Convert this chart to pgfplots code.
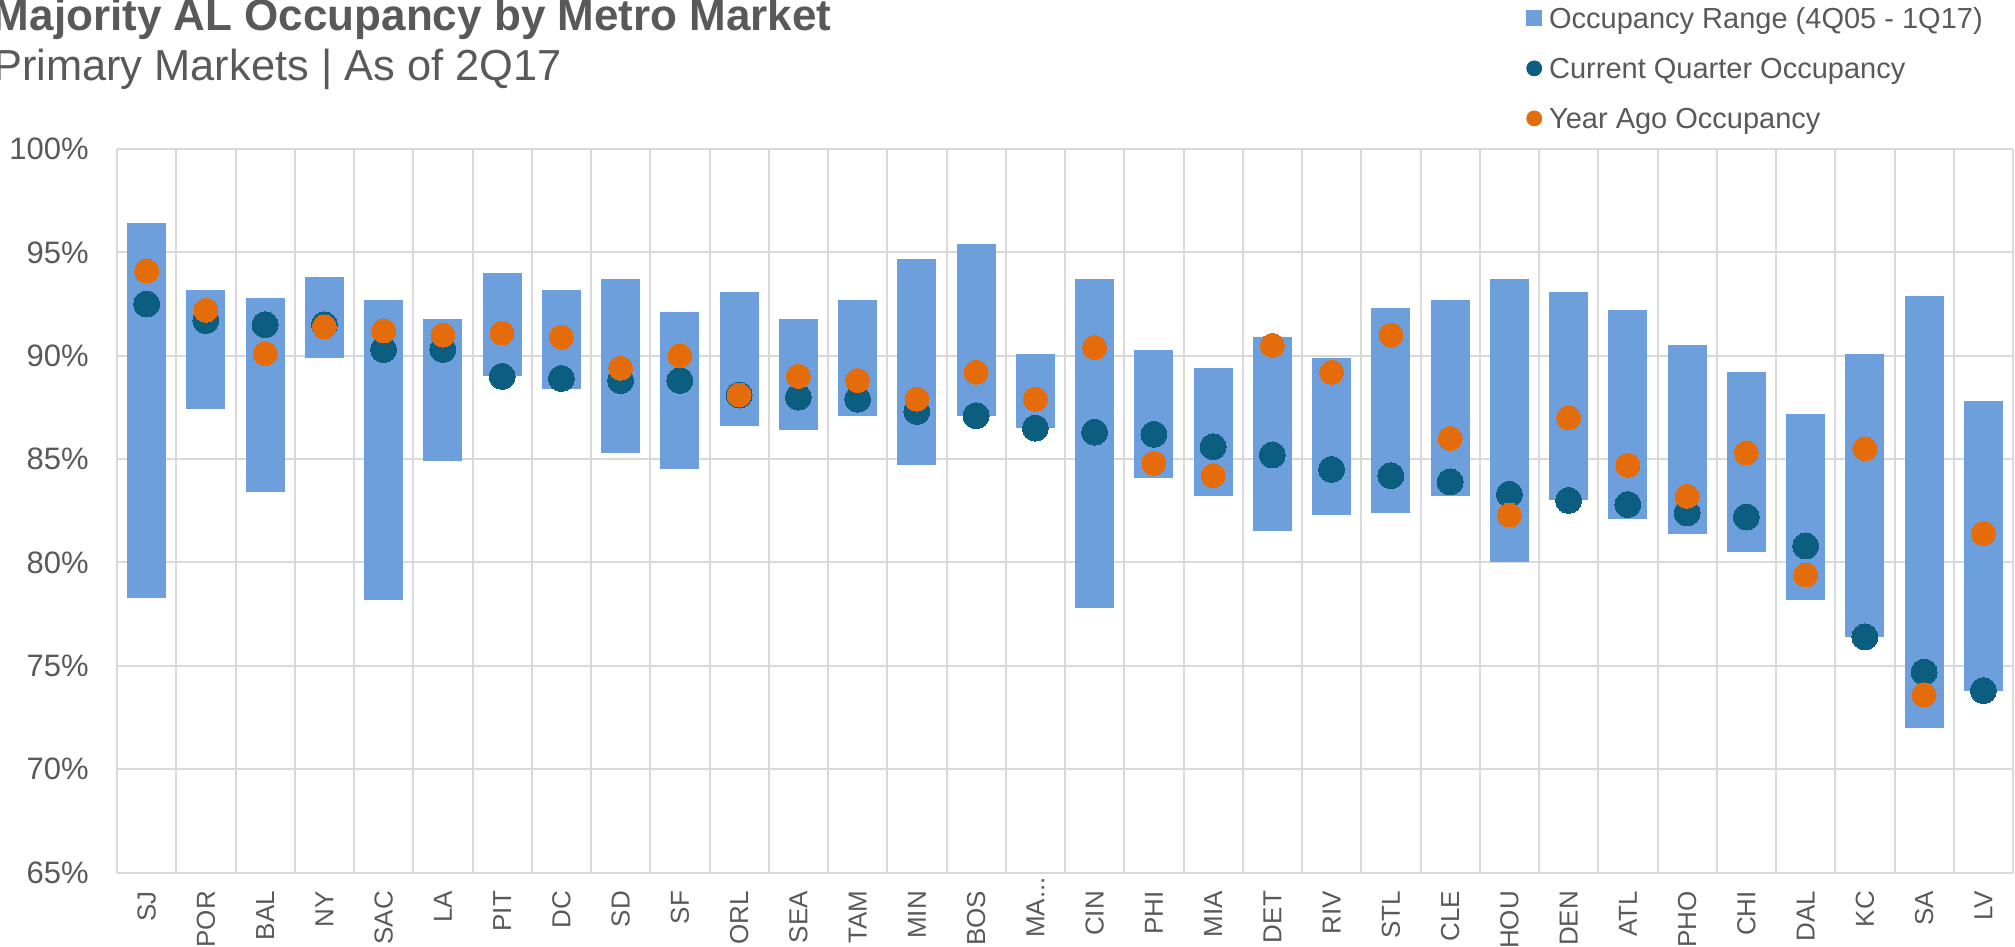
\documentclass[border=0pt]{standalone}
\usepackage{fontspec}
\setmainfont{Liberation Sans}
\usepackage{pgfplots}
\usepackage{pgfplotstable}
\pgfplotsset{compat=1.18}
\definecolor{barblue}{HTML}{6C9FDB}
\definecolor{curblue}{HTML}{0B5E80}
\definecolor{agoorange}{HTML}{E46C0A}
\definecolor{txtgray}{HTML}{595959}
\definecolor{gridgray}{HTML}{D9D9D9}

\pgfplotstableread{
x low high cur ago
0 78.3 96.4 92.5 94.1
1 87.4 93.2 91.7 92.2
2 83.4 92.8 91.5 90.1
3 89.9 93.8 91.5 91.4
4 78.2 92.7 90.3 91.2
5 84.9 91.8 90.3 91.0
6 89.0 94.0 89.0 91.1
7 88.4 93.2 88.9 90.9
8 85.3 93.7 88.8 89.4
9 84.5 92.1 88.8 90.0
10 86.6 93.1 88.1 88.1
11 86.4 91.8 88.0 89.0
12 87.1 92.7 87.9 88.8
13 84.7 94.7 87.3 87.9
14 87.1 95.4 87.1 89.2
15 86.5 90.1 86.5 87.9
16 77.8 93.7 86.3 90.4
17 84.1 90.3 86.2 84.8
18 83.2 89.4 85.6 84.2
19 81.5 90.9 85.2 90.5
20 82.3 89.9 84.5 89.2
21 82.4 92.3 84.2 91.0
22 83.2 92.7 83.9 86.0
23 80.0 93.7 83.3 82.3
24 83.0 93.1 83.0 87.0
25 82.1 92.2 82.8 84.7
26 81.4 90.5 82.4 83.2
27 80.5 89.2 82.2 85.3
28 78.2 87.2 80.8 79.4
29 76.4 90.1 76.4 85.5
30 72.0 92.9 74.7 73.6
31 73.8 87.8 73.8 81.4
}\data

\begin{document}
\begin{tikzpicture}
\path[use as bounding box] (0,0) rectangle (1007.5pt,-473.5pt);
\node[anchor=base east, inner sep=0pt, font=\fontsize{22}{26}\selectfont\bfseries, text=txtgray] at (416pt,-15.5pt) {Majority AL Occupancy by Metro Market};
\node[anchor=base east, inner sep=0pt, font=\fontsize{21.7}{26}\selectfont, text=txtgray] at (281pt,-40.5pt) {Primary Markets | As of 2Q17};
\begin{axis}[
  at={(58.5pt,-74.5pt)}, anchor=north west,
  scale only axis, width=948pt, height=361.8pt,
  xmin=-0.5, xmax=31.5, ymin=65, ymax=100,
  xtick={0,...,31},
  xticklabels={SJ,POR,BAL,NY,SAC,LA,PIT,DC,SD,SF,ORL,SEA,TAM,MIN,BOS,{MA.{}.{}.\kern-7pt},CIN,PHI,MIA,DET,RIV,STL,CLE,HOU,DEN,ATL,PHO,CHI,DAL,KC,SA,LV},
  minor xtick={-0.5,0.5,...,31.5},
  ytick={65,70,...,100},
  yticklabel={\pgfmathprintnumber{\tick}\%},
  /pgf/number format/assume math mode=true,
  xmajorgrids=false, xminorgrids=true, ymajorgrids=true,
  grid style={draw=gridgray, line width=1pt},
  minor grid style={draw=gridgray, line width=1pt},
  major grid style={draw=gridgray, line width=1pt},
  axis line style={draw=none},
  major tick length=0pt, minor tick length=0pt,
  tick style={draw=none},
  xticklabel style={rotate=90, anchor=east, inner sep=0pt, font=\fontsize{13}{16}\selectfont, text=txtgray},
  xticklabel shift=9pt,
  yticklabel style={anchor=east, inner sep=0pt, font=\fontsize{15.5}{18}\selectfont, text=txtgray},
  yticklabel shift=14pt,
  legend style={at={(0.7431,1.2000)}, anchor=north west, draw=none, fill=none,
    font=\fontsize{14.5}{17}\selectfont, text=txtgray, row sep=9pt, inner sep=0pt,
    nodes={inner sep=1pt, text height=11pt, text depth=3pt},
    /tikz/every odd column/.append style={column sep=2.5pt}},
  legend cell align=left,
]
\addplot [forget plot, draw=none, mark=none,
  error bars/.cd, y dir=both, y explicit,
  error bar style={line width=19.5pt, draw=barblue},
  error mark=none]
  table [x=x, y expr=(\thisrow{low}+\thisrow{high})/2, y error expr=(\thisrow{high}-\thisrow{low})/2] {\data};
\addlegendimage{legend image code/.code={\fill[barblue] (0pt,-2.6pt) rectangle (7.5pt,4.9pt);}}
\addlegendentry{Occupancy Range (4Q05 - 1Q17)}
\addplot [only marks, mark=*, color=curblue, mark size=6.5pt, mark options={fill=curblue, draw=curblue, line width=0pt},
  legend image code/.code={\fill[curblue] (3.75pt,1.15pt) circle (3.75pt);}]
  table [x=x, y=cur] {\data};
\addlegendentry{Current Quarter Occupancy}
\addplot [only marks, mark=*, color=agoorange, mark size=6pt, mark options={fill=agoorange, draw=agoorange, line width=0pt},
  legend image code/.code={\fill[agoorange] (3.75pt,1.15pt) circle (3.75pt);}]
  table [x=x, y=ago] {\data};
\addlegendentry{Year Ago Occupancy}
\end{axis}
\end{tikzpicture}
\end{document}
